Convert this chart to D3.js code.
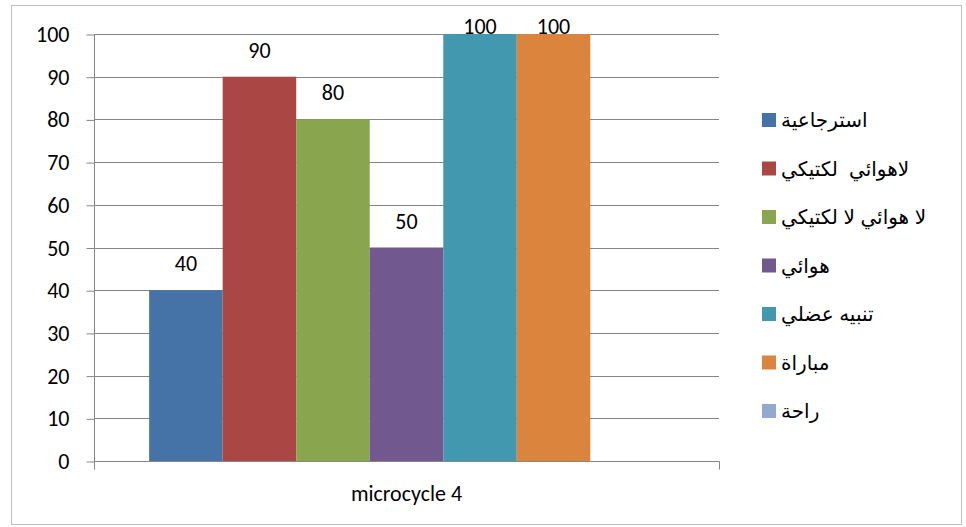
<!DOCTYPE html>
<html>
<head>
<meta charset="utf-8">
<script src="https://cdn.jsdelivr.net/npm/d3@7"></script>
<style>
  html, body { margin: 0; padding: 0; background: #fff; }
  svg { display: block; }
  .num { font-family: Carlito, Calibri, "Open Sans", sans-serif; font-size: 22px; fill: #000; }
  .leg { font-family: Arial, "DejaVu Sans", sans-serif; font-size: 20px; fill: #000; white-space: pre; }
</style>
</head>
<body>
<svg id="chart" width="966" height="527"></svg>
<script>
// Category and series
const categories = ["microcycle 4"];
const seriesNames = ["استرجاعية", "لاهوائي  لكتيكي", "لا هوائي لا لكتيكي", "هوائي", "تنبيه عضلي", "مباراة", "راحة"];
const seriesValues = [40, 90, 80, 50, 100, 100, 0];
const seriesColors = ["#4572A7", "#AA4643", "#89A54E", "#71588F", "#4198AF", "#DB843D", "#93A9CF"];
const yTicks = [0, 10, 20, 30, 40, 50, 60, 70, 80, 90, 100];

const svg = d3.select("#chart");

// Outer chart frame
svg.append("rect")
  .attr("x", 11.5).attr("y", 5.5)
  .attr("width", 950).attr("height", 519)
  .attr("fill", "#fff").attr("stroke", "#bfbfbf").attr("stroke-width", 1);

const plot = { left: 94, right: 719, top: 34, bottom: 461 };

const y = d3.scaleLinear().domain([0, 100]).range([plot.bottom, plot.top]);
const x0 = d3.scaleBand().domain(categories).range([plot.left, plot.right]).paddingInner(0).paddingOuter(0);
// Gap width 150%: 7 bars + 1.5 bar widths of gap
const groupW = x0.bandwidth() * 7 / 8.5;
const x1 = d3.scaleBand().domain(seriesNames).range([0, groupW]).padding(0);

// Gridlines
svg.append("g")
  .selectAll("line")
  .data(yTicks)
  .join("line")
  .attr("x1", plot.left).attr("x2", plot.right)
  .attr("y1", d => Math.round(y(d)) + 0.5).attr("y2", d => Math.round(y(d)) + 0.5)
  .attr("stroke", "#868686").attr("stroke-width", 1);

// Y axis
const yAxis = d3.axisLeft(y).tickValues(yTicks).tickSize(8).tickPadding(17);
const gy = svg.append("g")
  .attr("transform", `translate(${plot.left + 0.5},0.5)`)
  .call(yAxis);
gy.select(".domain").attr("d", `M0,${plot.top}V${plot.bottom + 8}`).attr("stroke", "#868686");
gy.selectAll(".tick line").attr("stroke", "#868686");
gy.selectAll(".tick text").attr("class", "num").attr("font-family", null).attr("font-size", null).attr("fill", "#000");

// Bars
const groups = svg.append("g")
  .selectAll("g")
  .data(categories)
  .join("g")
  .attr("transform", d => `translate(${x0(d) + (x0.bandwidth() - groupW) / 2},0)`);

groups.selectAll("rect")
  .data(() => seriesNames.map((n, i) => ({ name: n, value: seriesValues[i], color: seriesColors[i] })))
  .join("rect")
  .attr("x", d => x1(d.name))
  .attr("y", d => y(d.value))
  .attr("width", x1.bandwidth())
  .attr("height", d => y(0) - y(d.value))
  .attr("fill", d => d.color);

// Value labels (zero-value series gets none)
groups.selectAll("text")
  .data(() => seriesNames.map((n, i) => ({ name: n, value: seriesValues[i] })).filter(d => d.value > 0))
  .join("text")
  .attr("class", "num")
  .attr("text-anchor", "middle")
  .attr("x", d => x1(d.name) + x1.bandwidth() / 2)
  .attr("y", d => Math.max(y(d.value) - 19, 34))
  .text(d => d.value);

// X axis baseline
const xAxis = d3.axisBottom(x0).tickSize(0).tickPadding(24);
const gx = svg.append("g")
  .attr("transform", `translate(0,${plot.bottom + 0.5})`)
  .call(xAxis);
gx.select(".domain").attr("d", `M${plot.left + 0.5},8V0H${plot.right + 0.5}V8`).attr("stroke", "#868686").attr("fill", "none");
gx.selectAll(".tick text").attr("class", "num").attr("font-family", null).attr("font-size", null).attr("fill", "#000");

// Legend
const legend = svg.append("g").attr("transform", "translate(762,120)");
const rows = legend.selectAll("g")
  .data(seriesNames)
  .join("g")
  .attr("transform", (d, i) => `translate(0,${i * 48.5})`);
rows.append("rect")
  .attr("x", 0).attr("y", -7).attr("width", 14).attr("height", 14)
  .attr("fill", (d, i) => seriesColors[i]);
rows.append("text")
  .attr("class", "leg")
  .attr("x", 19).attr("y", 7)
  .attr("direction", "rtl")
  .attr("text-anchor", "end")
  .text(d => d);
</script>
</body>
</html>
